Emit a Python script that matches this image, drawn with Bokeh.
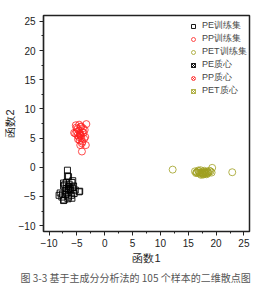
from bokeh.plotting import figure
from bokeh.models import Range1d, Title, Legend, LegendItem, FixedTicker
from bokeh.embed import file_html
from bokeh.resources import INLINE

# ---- data ----
pe_x = [-6.7, -6.5, -6.7, -5.75, -7.4, -6.9, -5.9, -6.5, -5.6, -7.4,
        -7.1, -6.1, -4.6, -4.5, -8.0, -6.8, -5.5, -8.2, -7.7, -6.5,
        -7.4, -7.3, -5.9, -6.2, -6.9, -6.0, -7.0, -5.8, -6.4, -7.6,
        -6.6, -5.3, -7.2]
pe_y = [-0.5, -1.6, -1.5, -2.3, -2.7, -2.6, -2.6, -3.3, -3.2, -3.2,
        -4.0, -4.0, -4.2, -4.1, -4.4, -4.4, -4.5, -4.8, -5.1, -5.1,
        -5.7, -5.6, -5.3, -3.7, -3.6, -4.8, -4.7, -3.5, -2.9, -4.6,
        -5.4, -3.9, -3.0]
pp_x = [-5.2, -4.25, -3.3, -5.3, -4.4, -4.0, -4.7, -3.5, -4.4, -3.4,
        -4.1, -4.9, -4.6, -3.9, -5.0, -4.3, -3.8, -4.8, -4.5, -4.2,
        -5.5, -3.6, -4.6, -4.0, -4.9, -4.3, -3.7, -5.1, -4.5, -4.1]
pp_y = [7.2, 7.0, 7.4, 5.8, 5.7, 6.05, 5.2, 5.2, 3.8, 3.8,
        2.7, 6.6, 6.3, 6.7, 6.0, 5.4, 5.9, 4.8, 4.6, 5.0,
        5.9, 6.4, 7.3, 4.4, 5.5, 6.9, 4.9, 6.8, 5.6, 4.1]
pet_x = [12.2, 16.2, 16.9, 17.4, 18.0, 18.6, 19.3, 19.2, 22.9, 17.7,
         17.1, 17.9, 18.3, 16.6, 17.5, 18.8, 17.2, 16.4, 18.1, 17.8,
         17.0, 18.5, 17.6, 16.8, 18.2, 17.3, 19.0, 17.9, 16.5, 18.4]
pet_y = [-0.4, -0.7, -0.7, -0.9, -0.8, -1.0, -0.1, -0.9, -0.85, -1.25,
         -1.1, -0.6, -1.2, -0.9, -1.0, -0.6, -0.5, -1.0, -1.1, -0.8,
         -0.95, -0.75, -1.15, -0.55, -0.9, -1.3, -0.7, -1.05, -0.85, -0.95]
centroid_x = [-6.5, -4.4, 17.6]
centroid_y = [-3.8, 5.4, -0.9]

ticks = [-10, -5, 0, 5, 10, 15, 20, 25]
series_names = ["PE训练集", "PP训练集", "PET训练集", "PE质心", "PP质心", "PET质心"]
x_label = "函数1"
y_label = "函数2"
caption = "图 3-3  基于主成分分析法的 105 个样本的二维散点图"

BLACK = "#000000"
RED = "#ff2020"
OLIVE = "#a0a020"

p = figure(width=271, height=285, output_backend="svg", toolbar_location=None,
           x_range=Range1d(-11, 26), y_range=Range1d(-11, 26),
           min_border_left=41, min_border_right=22, min_border_top=15,
           min_border_bottom=53)
p.grid.visible = False
p.outline_line_color = "#222222"
p.outline_line_width = 1.5
p.background_fill_color = "white"
p.border_fill_color = "white"

r1 = p.scatter(pe_x, pe_y, marker="square", size=6, fill_color=None,
               line_color=BLACK, line_width=0.9)
r2 = p.scatter(pp_x, pp_y, marker="circle", size=7, fill_color=None,
               line_color=RED, line_width=0.8)
r3 = p.scatter(pet_x, pet_y, marker="circle", size=7, fill_color=None,
               line_color=OLIVE, line_width=0.8)
r4 = p.scatter(centroid_x[0:1], centroid_y[0:1], marker="square_x", size=6,
               fill_color=None, line_color=BLACK, line_width=0.9)
r5 = p.scatter(centroid_x[1:2], centroid_y[1:2], marker="circle_x", size=7,
               fill_color=None, line_color=RED, line_width=0.8)
r6 = p.scatter(centroid_x[2:3], centroid_y[2:3], marker="square_x", size=6,
               fill_color=None, line_color=OLIVE, line_width=0.8)

legend = Legend(items=[LegendItem(label=n, renderers=[r])
                       for n, r in zip(series_names, [r1, r2, r3, r4, r5, r6])],
                location=(145, 134))
legend.border_line_color = None
legend.background_fill_alpha = 0
legend.label_text_font = "Liberation Sans"
legend.label_text_font_size = "9px"
legend.label_height = 10
legend.glyph_height = 10
legend.glyph_width = 10
legend.label_standoff = 4
legend.spacing = 0
legend.padding = 1
legend.margin = 0
p.add_layout(legend)

for ax in (p.xaxis[0], p.yaxis[0]):
    ax.ticker = FixedTicker(ticks=ticks, minor_ticks=[t + 2.5 for t in [-12.5] + ticks])
    ax.major_label_text_font = "Liberation Sans"
    ax.major_label_text_font_size = "10px"
    ax.major_label_text_color = "#222222"
    ax.axis_line_color = "#222222"
    ax.axis_line_width = 1.2
    ax.major_tick_line_color = "#222222"
    ax.minor_tick_line_color = "#222222"
    ax.major_tick_out = 4
    ax.major_tick_in = 0
    ax.minor_tick_out = 2
    ax.minor_tick_in = 0
    ax.axis_label_text_font = "Liberation Sans"
    ax.axis_label_text_font_size = "11px"
    ax.axis_label_text_font_style = "normal"
    ax.axis_label_text_color = "#222222"

p.xaxis[0].axis_label = x_label
p.yaxis[0].axis_label = y_label
p.xaxis[0].major_label_standoff = 3
p.yaxis[0].major_label_standoff = 4
p.xaxis[0].axis_label_standoff = 2
p.yaxis[0].axis_label_standoff = 0

p.add_layout(Title(text=caption, align="left", text_font="Noto Sans CJK SC",
                   text_font_size="10px", text_font_style="normal",
                   text_color="#555555", standoff=2, offset=-23), "below")

open("out.html", "w").write(file_html(p, INLINE))
